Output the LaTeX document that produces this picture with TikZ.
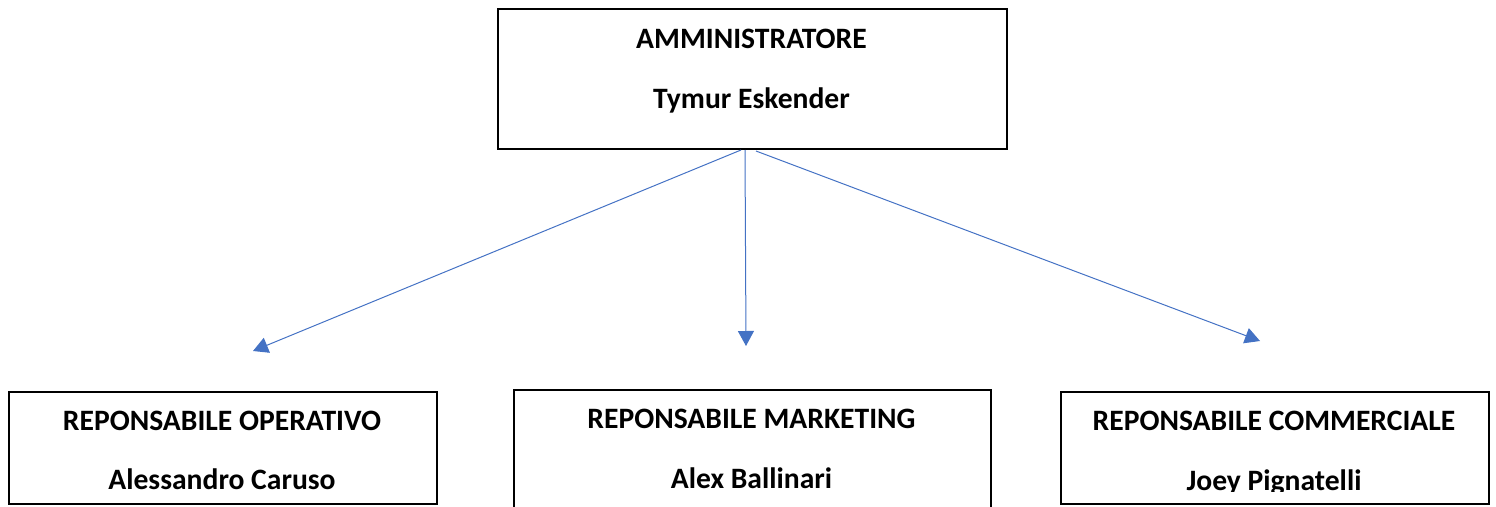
\documentclass[tikz,border=0pt]{standalone}
\usepackage{fontspec}
\setmainfont{Carlito}
\usetikzlibrary{arrows.meta}
\definecolor{arrowblue}{RGB}{68,114,196}
\tikzset{
  box/.style={draw=black, line width=1.6pt, inner sep=0pt, anchor=north west},
  lbl/.style={font=\fontsize{29.6}{35}\selectfont\bfseries, inner sep=0pt, anchor=base},
  conn/.style={draw=arrowblue, line width=1pt, -{Triangle[length=15pt,width=16pt]}}
}
\begin{document}
\begin{tikzpicture}[x=1pt,y=-1pt]
\useasboundingbox (0,0) rectangle (1496,506);
% boxes
\node[box, minimum width=509pt, minimum height=140pt] (top) at (497,8) {};
\node[box, minimum width=428pt, minimum height=112pt] (left) at (8,391) {};
\node[box, minimum width=477pt, minimum height=130pt] (mid) at (513,389) {};
\node[box, minimum width=428pt, minimum height=112pt] (right) at (1060,391) {};
% texts
\node[lbl] (t1) at (751.5,48) {AMMINISTRATORE};
\node[lbl] (t2) at (751.5,108) {Tymur Eskender};
\node[lbl] (l1) at (222,430) {REPONSABILE OPERATIVO};
\node[lbl] (l2) at (222,489) {Alessandro Caruso};
\node[lbl] (m1) at (751.5,428) {REPONSABILE MARKETING};
\node[lbl] (m2) at (751.5,488) {Alex Ballinari};
\node[lbl] (r1) at (1274,430) {REPONSABILE COMMERCIALE};
\begin{scope}
\clip (1062,393) rectangle (1486,491);
\node[lbl] (r2) at (1274,490) {Joey Pignatelli};
\end{scope}
% connectors
\coordinate (s1) at (741,150);
\coordinate (s2) at (745,150);
\coordinate (s3) at (756,151);
\coordinate (e1) at (253,351);
\coordinate (e2) at (746,346);
\coordinate (e3) at (1260,341);
\draw[conn] (s1) -- (e1);
\draw[conn] (s2) -- (e2);
\draw[conn] (s3) -- (e3);
\end{tikzpicture}
\end{document}
